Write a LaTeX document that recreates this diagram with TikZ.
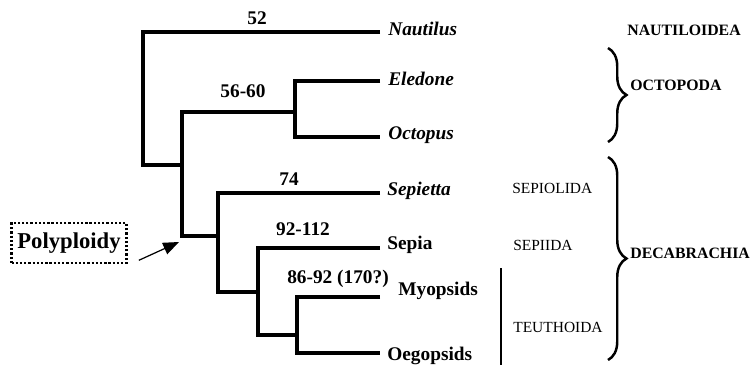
\documentclass[tikz,border=0pt]{standalone}
\usepackage{fontspec}
\setmainfont{Liberation Serif}
\usetikzlibrary{arrows.meta,decorations.pathreplacing}

\begin{document}
\begin{tikzpicture}[x=0.02cm, y=-0.02cm, >={Triangle[length=9pt,width=7pt]},
    branch/.style={line width=1.9pt},
    leaf/.style={anchor=base west, inner sep=0pt, font=\fontsize{11}{13}\selectfont\bfseries},
    count/.style={anchor=base, inner sep=0pt, font=\fontsize{11}{13}\selectfont\bfseries},
    group/.style={anchor=base west, inner sep=0pt, font=\fontsize{9}{11}\selectfont\bfseries},
    order/.style={anchor=base west, inner sep=0pt, font=\fontsize{8.8}{10}\selectfont},
    bracegrp/.style={decorate, decoration={brace, amplitude=0.37cm}, line width=1.4pt}]
    \useasboundingbox (0,0) rectangle (751,365);

    % branch points and tips
    \coordinate (n0) at (143,165);
    \coordinate (n1) at (182,165);
    \coordinate (n2) at (295,112);
    \coordinate (n3) at (218,236);
    \coordinate (n4) at (258,292);
    \coordinate (n5) at (297,335);
    \coordinate (tnau) at (380,32);
    \coordinate (tele) at (380,81);
    \coordinate (toct) at (380,137);
    \coordinate (tset) at (380,193);
    \coordinate (tsep) at (380,248);
    \coordinate (tmyo) at (380,297);
    \coordinate (toeg) at (380,353);

    \draw[branch] (tnau) -| (n0) -- (n1);
    \draw[branch] (tele) -| (n2) |- (toct);
    \draw[branch] (n2) -| (n1) |- (n3);
    \draw[branch] (tset) -| (n3) |- (n4);
    \draw[branch] (tsep) -| (n4) |- (n5);
    \draw[branch] (tmyo) -| (n5) |- (toeg);

    % taxa
    \node[leaf] (nautilus) at (388,35) {\itshape Nautilus};
    \node[leaf] (eledone) at (388,85) {\itshape Eledone};
    \node[leaf] (octopus) at (388,139) {\itshape Octopus};
    \node[leaf] (sepietta) at (387,195) {\itshape Sepietta};
    \node[leaf] (sepia) at (387,249) {Sepia};
    \node[leaf] (myopsids) at (398,295) {Myopsids};
    \node[leaf] (oegopsids) at (387,360) {Oegopsids};

    % chromosome numbers
    \node[count] (c52) at (257,25) {52};
    \node[count] (c56) at (243,97) {56-60};
    \node[count] (c74) at (289,185) {74};
    \node[count] (c92) at (303,235) {92-112};
    \node[count] (c86) at (338,283) {86-92 (170?)};

    % orders
    \node[order] (sepiolida) at (512,193) {SEPIOLIDA};
    \node[order] (sepiida) at (513,250) {SEPIIDA};
    \node[order] (teuthoida) at (513,332) {TEUTHOIDA};
    \draw[line width=1.1pt] (501,268) -- (501,365);

    % superorders
    \draw[bracegrp] (608,48) -- (608,142);
    \draw[bracegrp] (608,157) -- (608,360);
    \node[group] (nautiloidea) at (627,35) {NAUTILOIDEA};
    \node[group] (octopoda) at (630,90) {OCTOPODA};
    \node[group] (decabrachia) at (630,258) {DECABRACHIA};

    \coordinate (ptip) at (179,242);
    \node[draw, dash pattern=on 1.3pt off 1.1pt, line width=1.5pt, minimum width=2.3cm,
        minimum height=0.8cm, font=\fontsize{12.9}{15}\selectfont\bfseries] (poly) at (69,243) {Polyploidy};
    \draw[->, line width=0.7pt] ([shift={(11,-4)}]poly.south east) -- (ptip);
\end{tikzpicture}
\end{document}
